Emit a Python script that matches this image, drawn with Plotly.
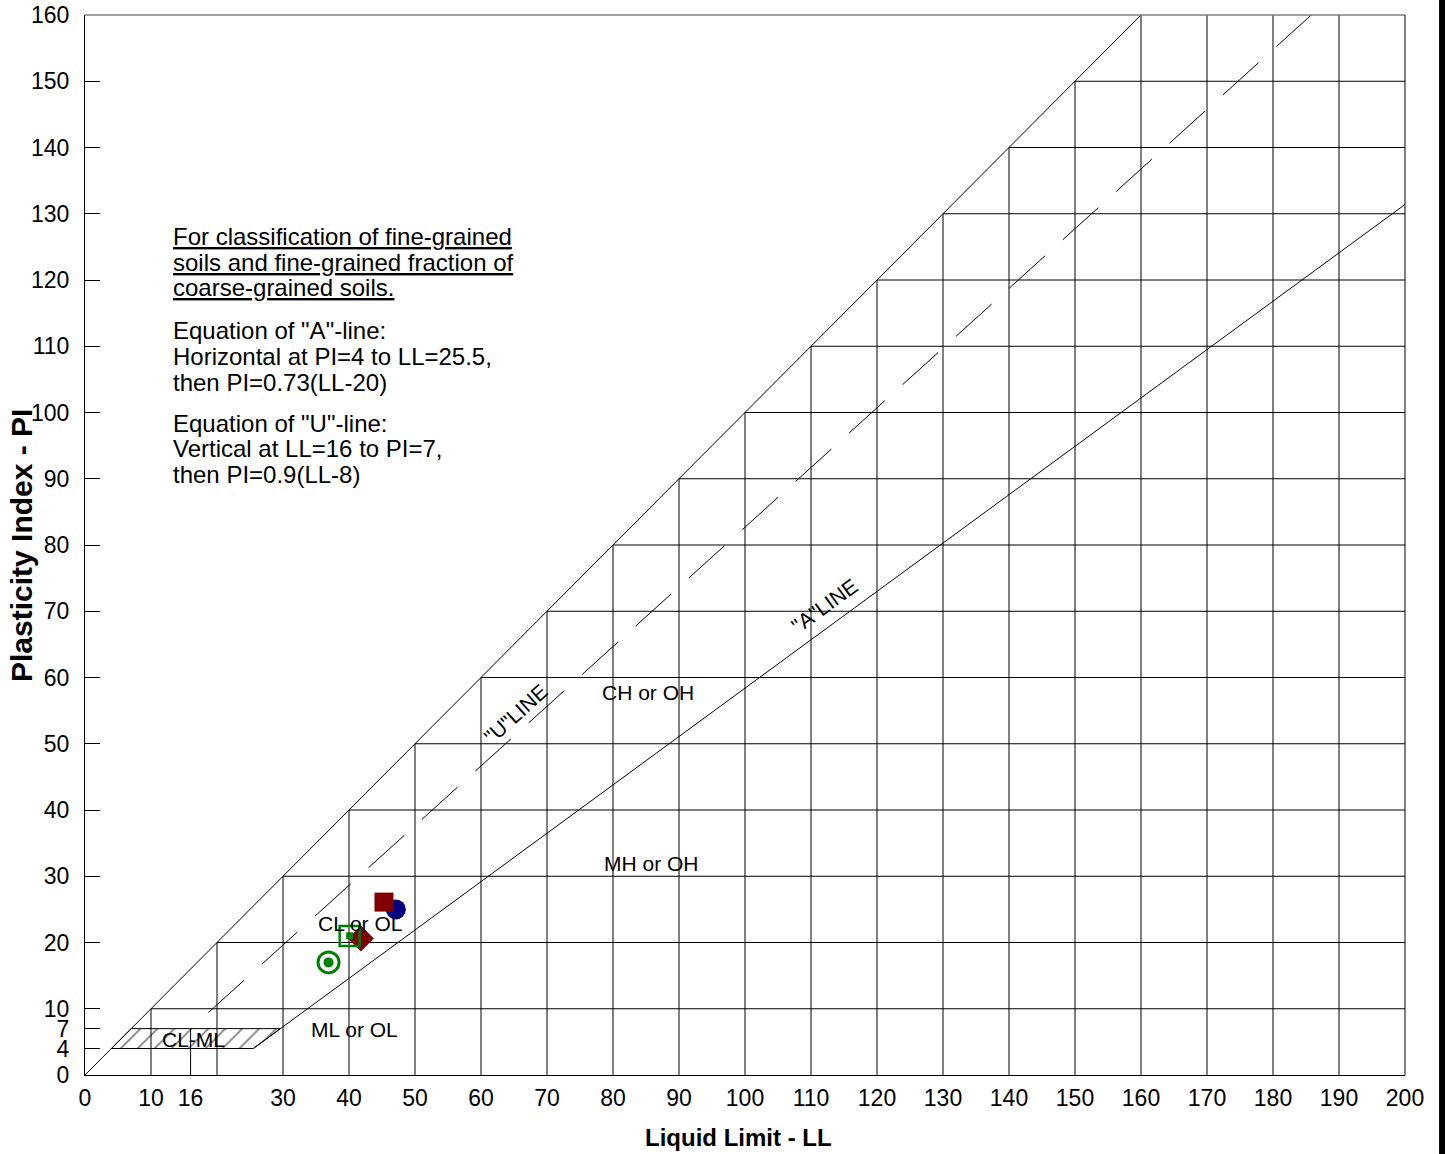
import plotly.graph_objects as go

# ---- Plasticity chart definition ----
LL_RANGE = [0, 200]
PI_RANGE = [0, 160]

x_tickvals = [0, 10, 16, 30, 40, 50, 60, 70, 80, 90, 100, 110, 120, 130, 140, 150, 160, 170, 180, 190, 200]
y_tickvals = [0, 4, 7, 10, 20, 30, 40, 50, 60, 70, 80, 90, 100, 110, 120, 130, 140, 150, 160]

# staircase grid: verticals rise to the PI=LL line, horizontals start from it
grid_ll = [10, 20, 30, 40, 50, 60, 70, 80, 90, 100, 110, 120, 130, 140, 150, 160, 170, 180, 190]
grid_pi = [10, 20, 30, 40, 50, 60, 70, 80, 90, 100, 110, 120, 130, 140, 150]

# reference lines
diag_ll, diag_pi = [0, 160], [0, 160]
a_line_ll, a_line_pi = [25.5, 200], [4, 131.4]
u_line_ll, u_line_pi = [16, 185.8], [7, 160]
u_vert_ll, u_vert_pi = [16, 16], [0, 7]

# CL-ML hatched zone
clml_ll = [4, 25.5, 29.6, 7, 4]
clml_pi = [4, 4, 7, 7, 4]

# test results (LL, PI)
s1_ll, s1_pi = [47.1], [25.0]   # navy circle
s2_ll, s2_pi = [45.3], [26.1]   # maroon square
s3_ll, s3_pi = [41.8], [20.6]   # maroon diamond
s4_ll, s4_pi = [40.1], [21.0]   # green open square with dot
s5_ll, s5_pi = [36.9], [17.0]   # green ring with dot

FONT = "Liberation Sans, Arial, sans-serif"
BLACK = "#000000"

fig = go.Figure()

# hatched CL-ML zone
fig.add_trace(go.Scatter(
    x=clml_ll, y=clml_pi, mode="lines", fill="toself",
    fillcolor="rgba(0,0,0,0)",
    fillpattern=dict(shape="/", size=12, solidity=0.14, fgcolor=BLACK, bgcolor="rgba(0,0,0,0)"),
    line=dict(color=BLACK, width=1), hoverinfo="skip"))

# grid segments
gx, gy = [], []
for v in grid_ll:
    gx += [v, v, None]
    gy += [0, min(v, PI_RANGE[1]), None]
for v in grid_pi:
    gx += [v, LL_RANGE[1], None]
    gy += [v, v, None]
gx += u_vert_ll + [None]
gy += u_vert_pi + [None]
fig.add_trace(go.Scatter(x=gx, y=gy, mode="lines",
                         line=dict(color=BLACK, width=1), hoverinfo="skip"))

# PI = LL boundary and A-line
fig.add_trace(go.Scatter(x=diag_ll, y=diag_pi, mode="lines",
                         line=dict(color=BLACK, width=1), hoverinfo="skip"))
fig.add_trace(go.Scatter(x=a_line_ll, y=a_line_pi, mode="lines",
                         line=dict(color=BLACK, width=1), hoverinfo="skip"))
# U-line (dashed, gap first)
fig.add_trace(go.Scatter(x=u_line_ll, y=u_line_pi, mode="lines",
                         line=dict(color=BLACK, width=1, dash="0px,24px,48px,0px"),
                         hoverinfo="skip"))

# samples
fig.add_trace(go.Scatter(x=s1_ll, y=s1_pi, mode="markers",
                         marker=dict(symbol="circle", size=20, color="#000080", line=dict(width=0))))
fig.add_trace(go.Scatter(x=s2_ll, y=s2_pi, mode="markers",
                         marker=dict(symbol="square", size=19, color="#800000", line=dict(width=0))))
fig.add_trace(go.Scatter(x=s3_ll, y=s3_pi, mode="markers",
                         marker=dict(symbol="diamond", size=20, color="#800000", line=dict(width=0))))
fig.add_trace(go.Scatter(x=s4_ll, y=s4_pi, mode="markers",
                         marker=dict(symbol="square-open", size=20, color="#008000",
                                     line=dict(width=2.5, color="#008000"))))
fig.add_trace(go.Scatter(x=s4_ll, y=s4_pi, mode="markers",
                         marker=dict(symbol="square", size=7, color="#008000", line=dict(width=0))))
fig.add_trace(go.Scatter(x=s5_ll, y=s5_pi, mode="markers",
                         marker=dict(symbol="circle-open", size=21, color="#008000",
                                     line=dict(width=3, color="#008000"))))
fig.add_trace(go.Scatter(x=s5_ll, y=s5_pi, mode="markers",
                         marker=dict(symbol="circle", size=10, color="#008000", line=dict(width=0))))

annotations = []

def label(x, y, text, size=21, angle=0, xanchor="center"):
    annotations.append(dict(x=x, y=y, xref="x", yref="y", text=text, showarrow=False,
                            textangle=angle, xanchor=xanchor, yanchor="middle",
                            font=dict(family=FONT, size=size, color=BLACK)))

# zone labels
label(85.3, 57.7, "CH or OH")
label(85.9, 32.0, "MH or OH")
label(41.6, 22.9, "CL or OL")
label(40.9, 6.8, "ML or OL")
label(16.4, 5.4, "CL-ML")
label(65.3, 54.6, "\"U\"LINE", angle=-42)
label(112.1, 70.8, "\"A\"LINE", angle=-36)

# notes block
note_lines = [
    (126.5, "<u>For classification of fine-grained</u>"),
    (122.7, "<u>soils and fine-grained fraction of</u>"),
    (118.8, "<u>coarse-grained soils.</u>"),
    (112.4, "Equation of \"A\"-line:"),
    (108.5, "Horizontal at PI=4 to LL=25.5,"),
    (104.6, "then PI=0.73(LL-20)"),
    (98.4, "Equation of \"U\"-line:"),
    (94.5, "Vertical at LL=16 to PI=7,"),
    (90.6, "then PI=0.9(LL-8)"),
]
for yv, txt in note_lines:
    label(13.1, yv, txt, size=24, xanchor="left")

# axis titles
annotations.append(dict(x=0.4947, y=-0.0594, xref="paper", yref="paper",
                        text="<b>Liquid Limit - LL</b>", showarrow=False,
                        xanchor="center", yanchor="middle",
                        font=dict(family=FONT, size=24, color=BLACK)))
annotations.append(dict(x=-0.0485, y=0.5, xref="paper", yref="paper",
                        text="<b>Plasticity Index - PI</b>", showarrow=False, textangle=-90,
                        xanchor="center", yanchor="middle",
                        font=dict(family=FONT, size=30, color=BLACK)))

shapes = [
    # top and right frame
    dict(type="line", xref="paper", yref="paper", x0=0, x1=1, y0=1, y1=1,
         line=dict(color="#808080", width=1.5)),
    dict(type="line", xref="paper", yref="paper", x0=1, x1=1, y0=0, y1=1,
         line=dict(color=BLACK, width=1)),
    # dark edge strip on the right of the page
    dict(type="rect", xref="paper", yref="paper", x0=1.0258, x1=1.035, y0=-0.09, y1=1.03,
         fillcolor=BLACK, line=dict(width=0)),
]

fig.update_layout(
    width=1445, height=1154,
    margin=dict(l=85, r=40, t=15, b=79, autoexpand=False),
    paper_bgcolor="white", plot_bgcolor="white",
    showlegend=False,
    font=dict(family=FONT, size=23, color=BLACK),
    annotations=annotations,
    shapes=shapes,
    xaxis=dict(range=LL_RANGE, tickmode="array", tickvals=x_tickvals,
               ticktext=[str(v) for v in x_tickvals], automargin=False,
               showgrid=False, zeroline=False, showline=True, linecolor=BLACK, linewidth=1,
               ticks="", ticklabelstandoff=2,
               tickfont=dict(family=FONT, size=23, color=BLACK)),
    yaxis=dict(range=PI_RANGE, tickmode="array", tickvals=y_tickvals,
               ticktext=[str(v) for v in y_tickvals], automargin=False,
               showgrid=False, zeroline=False, showline=True, linecolor=BLACK, linewidth=1,
               ticks="inside", ticklen=15, tickcolor=BLACK, tickwidth=1,
               ticklabelstandoff=10,
               tickfont=dict(family=FONT, size=23, color=BLACK)),
)

fig.write_html("out.html")
